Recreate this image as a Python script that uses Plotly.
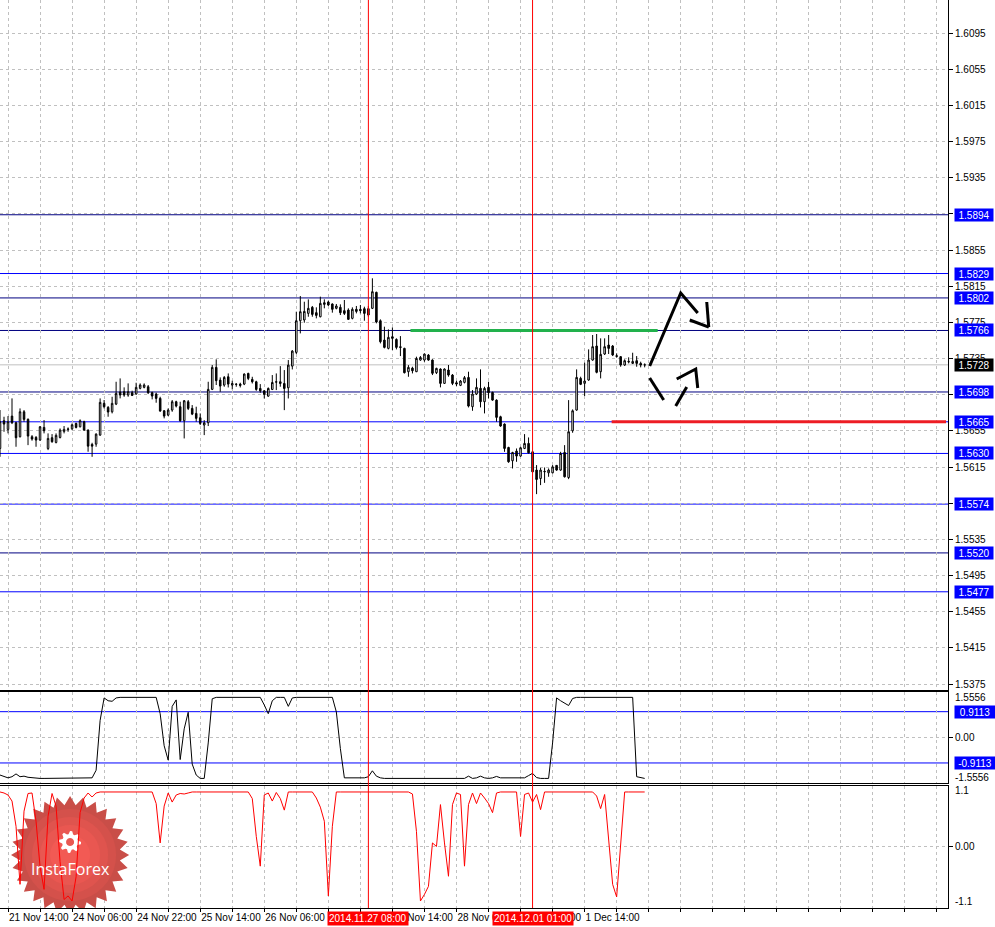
import math
import plotly.graph_objects as go
from plotly.subplots import make_subplots

# ---- hourly GBPUSD bars (index 0 = 21 Nov 14:00) ----
bar_index = list(range(-2, 160))

opens = [
    1.56355, 1.56662, 1.56566, 1.56713, 1.56640, 1.56485, 1.56761, 1.56677, 1.56485, 1.56477,
    1.56448, 1.56588, 1.56355, 1.56474, 1.56422, 1.56477, 1.56544, 1.56566, 1.56573, 1.56632,
    1.56595, 1.56651, 1.56558, 1.56400, 1.56403, 1.56503, 1.56854, 1.56809, 1.56761, 1.56846,
    1.56979, 1.56983, 1.56946, 1.56972, 1.56957, 1.57020, 1.57031, 1.57038, 1.56972, 1.56957,
    1.56909, 1.56772, 1.56724, 1.56780, 1.56872, 1.56817, 1.56662, 1.56872, 1.56798, 1.56743,
    1.56695, 1.56614, 1.56640, 1.57009, 1.57252, 1.57111, 1.57056, 1.57148, 1.57056, 1.57063,
    1.57067, 1.57067, 1.57185, 1.57119, 1.57093, 1.57019, 1.56993, 1.56934, 1.57008, 1.57093,
    1.57093, 1.57074, 1.57026, 1.57266, 1.57418, 1.57768, 1.57776, 1.57849, 1.57916, 1.57857,
    1.57812, 1.57967, 1.57975, 1.57953, 1.57905, 1.57916, 1.57879, 1.57886, 1.57794, 1.57894,
    1.57894, 1.57901, 1.57901, 1.57905, 1.58082, 1.57768, 1.57554, 1.57462, 1.57591, 1.57561,
    1.57480, 1.57462, 1.57204, 1.57244, 1.57204, 1.57333, 1.57333, 1.57388, 1.57333, 1.57193,
    1.57234, 1.57075, 1.57223, 1.57167, 1.57082, 1.57053, 1.57086, 1.57141, 1.56817, 1.56957,
    1.57020, 1.56872, 1.57031, 1.56975, 1.56890, 1.56706, 1.56625, 1.56366, 1.56219, 1.56326,
    1.56271, 1.56355, 1.56411, 1.56318, 1.56116, 1.56023, 1.56097, 1.56086, 1.56086, 1.56168,
    1.56116, 1.56311, 1.56034, 1.56551, 1.56780, 1.57130, 1.57075, 1.57112, 1.57333, 1.57488,
    1.57204, 1.57400, 1.57499, 1.57488, 1.57381, 1.57370, 1.57278, 1.57311, 1.57296, 1.57326,
    1.57296, 1.57278,
]
highs = [
    1.56780, 1.56706, 1.56713, 1.56909, 1.56651, 1.56798, 1.56780, 1.56688, 1.56503, 1.56492,
    1.56603, 1.56669, 1.56522, 1.56514, 1.56522, 1.56577, 1.56603, 1.56588, 1.56632, 1.56640,
    1.56677, 1.56662, 1.56566, 1.56418, 1.56522, 1.56909, 1.56891, 1.56824, 1.56927, 1.57093,
    1.57130, 1.57031, 1.57075, 1.56994, 1.57082, 1.57075, 1.57075, 1.57057, 1.56983, 1.56972,
    1.56927, 1.56780, 1.56798, 1.56891, 1.56883, 1.56872, 1.56891, 1.56891, 1.56835, 1.56817,
    1.56743, 1.56669, 1.57093, 1.57278, 1.57341, 1.57141, 1.57156, 1.57185, 1.57104, 1.57074,
    1.57082, 1.57185, 1.57193, 1.57148, 1.57104, 1.57067, 1.57001, 1.57030, 1.57167, 1.57185,
    1.57266, 1.57222, 1.57333, 1.57443, 1.57868, 1.58041, 1.57978, 1.58004, 1.57931, 1.57916,
    1.58034, 1.58004, 1.57989, 1.57960, 1.57953, 1.57949, 1.57997, 1.57905, 1.57916, 1.57931,
    1.57942, 1.57923, 1.57931, 1.58237, 1.58089, 1.57783, 1.57702, 1.57672, 1.57694, 1.57573,
    1.57598, 1.57469, 1.57277, 1.57259, 1.57370, 1.57377, 1.57407, 1.57399, 1.57341, 1.57248,
    1.57241, 1.57241, 1.57278, 1.57178, 1.57104, 1.57112, 1.57156, 1.57204, 1.57001, 1.57130,
    1.57230, 1.57038, 1.57093, 1.56983, 1.56898, 1.56717, 1.56632, 1.56374, 1.56318, 1.56355,
    1.56374, 1.56514, 1.56477, 1.56329, 1.56171, 1.56141, 1.56145, 1.56134, 1.56171, 1.56171,
    1.56318, 1.56392, 1.56890, 1.56787, 1.57230, 1.57149, 1.57304, 1.57451, 1.57610, 1.57621,
    1.57573, 1.57573, 1.57610, 1.57499, 1.57407, 1.57377, 1.57341, 1.57363, 1.57414, 1.57377,
    1.57315, 1.57296,
]
lows = [
    1.56263, 1.56540, 1.56522, 1.56625, 1.56374, 1.56477, 1.56651, 1.56392, 1.56441, 1.56374,
    1.56441, 1.56522, 1.56337, 1.56418, 1.56411, 1.56466, 1.56522, 1.56540, 1.56558, 1.56577,
    1.56588, 1.56551, 1.56319, 1.56263, 1.56374, 1.56496, 1.56798, 1.56706, 1.56743, 1.56835,
    1.56909, 1.56927, 1.56927, 1.56935, 1.56950, 1.57009, 1.57020, 1.56957, 1.56898, 1.56861,
    1.56761, 1.56688, 1.56713, 1.56761, 1.56809, 1.56651, 1.56466, 1.56780, 1.56724, 1.56651,
    1.56614, 1.56503, 1.56603, 1.57001, 1.57057, 1.56982, 1.57038, 1.57030, 1.57008, 1.57038,
    1.57030, 1.57056, 1.57111, 1.57074, 1.56993, 1.56971, 1.56908, 1.56927, 1.57001, 1.57001,
    1.57038, 1.56779, 1.56908, 1.57229, 1.57399, 1.57628, 1.57746, 1.57812, 1.57812, 1.57794,
    1.57805, 1.57905, 1.57931, 1.57857, 1.57894, 1.57831, 1.57831, 1.57776, 1.57783, 1.57849,
    1.57849, 1.57768, 1.57812, 1.57897, 1.57739, 1.57517, 1.57462, 1.57451, 1.57443, 1.57451,
    1.57377, 1.57185, 1.57148, 1.57185, 1.57200, 1.57325, 1.57314, 1.57325, 1.57167, 1.57178,
    1.57031, 1.57068, 1.57149, 1.57056, 1.57045, 1.57045, 1.57075, 1.56809, 1.56772, 1.56946,
    1.56809, 1.56743, 1.56909, 1.56883, 1.56651, 1.56595, 1.56318, 1.56197, 1.56134, 1.56208,
    1.56263, 1.56348, 1.56300, 1.56086, 1.55850, 1.55950, 1.55975, 1.56042, 1.56079, 1.56108,
    1.56108, 1.56034, 1.56016, 1.56529, 1.56772, 1.57056, 1.56935, 1.57104, 1.57326, 1.57186,
    1.57130, 1.57389, 1.57400, 1.57377, 1.57359, 1.57259, 1.57267, 1.57296, 1.57289, 1.57259,
    1.57252, 1.57252,
]
closes = [
    1.56651, 1.56625, 1.56651, 1.56640, 1.56474, 1.56761, 1.56677, 1.56492, 1.56459, 1.56448,
    1.56595, 1.56551, 1.56466, 1.56430, 1.56500, 1.56558, 1.56566, 1.56570, 1.56617, 1.56588,
    1.56662, 1.56558, 1.56381, 1.56381, 1.56514, 1.56865, 1.56817, 1.56758, 1.56854, 1.56964,
    1.56946, 1.56946, 1.56983, 1.56942, 1.57031, 1.57057, 1.57057, 1.56972, 1.56935, 1.56909,
    1.56769, 1.56713, 1.56780, 1.56872, 1.56824, 1.56662, 1.56883, 1.56798, 1.56735, 1.56688,
    1.56632, 1.56640, 1.57009, 1.57252, 1.57105, 1.57045, 1.57141, 1.57067, 1.57074, 1.57067,
    1.57052, 1.57178, 1.57130, 1.57093, 1.57008, 1.56993, 1.56953, 1.57019, 1.57085, 1.57089,
    1.57074, 1.57019, 1.57277, 1.57432, 1.57768, 1.57868, 1.57871, 1.57905, 1.57838, 1.57827,
    1.57960, 1.57949, 1.57942, 1.57894, 1.57931, 1.57857, 1.57849, 1.57783, 1.57894, 1.57871,
    1.57879, 1.57849, 1.57831, 1.58089, 1.57753, 1.57536, 1.57473, 1.57584, 1.57573, 1.57473,
    1.57473, 1.57193, 1.57252, 1.57215, 1.57351, 1.57362, 1.57399, 1.57333, 1.57186, 1.57241,
    1.57075, 1.57234, 1.57167, 1.57075, 1.57068, 1.57101, 1.57138, 1.56824, 1.56957, 1.57031,
    1.56872, 1.57020, 1.56972, 1.56890, 1.56699, 1.56603, 1.56355, 1.56208, 1.56311, 1.56271,
    1.56363, 1.56411, 1.56307, 1.56097, 1.56012, 1.56116, 1.56101, 1.56116, 1.56152, 1.56116,
    1.56300, 1.56042, 1.56540, 1.56772, 1.57141, 1.57064, 1.57101, 1.57333, 1.57481, 1.57197,
    1.57396, 1.57481, 1.57462, 1.57389, 1.57374, 1.57278, 1.57326, 1.57318, 1.57318, 1.57296,
    1.57278, 1.57280,
]

# ---- indicator windows ----
osc_black = [
    -1.34, -1.40, -1.44, -1.40, -1.30, -1.40, -1.38, -1.42, -1.44, -1.46,
    -1.46, -1.46, -1.46, -1.46, -1.46, -1.46, -1.46, -1.46, -1.46, -1.46,
    -1.46, -1.46, -1.46, -1.44, -1.17, 0.60, 1.40, 1.30, 1.28, 1.40,
    1.42, 1.42, 1.42, 1.42, 1.42, 1.42, 1.42, 1.42, 1.42, 1.42,
    0.84, -0.30, -0.81, 1.10, 1.33, -0.79, 0.30, 0.89, -0.95, -1.34,
    -1.46, -1.46, -0.20, 1.37, 1.42, 1.42, 1.42, 1.42, 1.42, 1.42,
    1.42, 1.42, 1.42, 1.42, 1.42, 1.42, 1.15, 0.84, 1.30, 1.42,
    1.42, 1.42, 1.10, 1.40, 1.42, 1.42, 1.42, 1.42, 1.42, 1.42,
    1.42, 1.42, 1.42, 1.42, 0.90, -0.40, -1.44, -1.44, -1.44, -1.44,
    -1.44, -1.44, -1.40, -1.19, -1.38, -1.44, -1.46, -1.46, -1.46, -1.46,
    -1.46, -1.46, -1.46, -1.46, -1.46, -1.46, -1.46, -1.46, -1.46, -1.46,
    -1.46, -1.46, -1.46, -1.46, -1.46, -1.46, -1.46, -1.38, -1.46, -1.44,
    -1.38, -1.44, -1.46, -1.44, -1.39, -1.44, -1.44, -1.44, -1.44, -1.44,
    -1.44, -1.44, -1.36, -1.28, -1.43, -1.46, -1.46, -1.46, -0.20, 1.40,
    1.30, 1.20, 1.13, 1.38, 1.42, 1.42, 1.42, 1.42, 1.42, 1.42,
    1.42, 1.42, 1.42, 1.42, 1.42, 1.42, 1.42, 1.42, 1.42, -1.40,
    -1.44, -1.46,
]
osc_red = [
    1.08, 1.06, 1.02, 0.90, 0.40, -0.75, 0.70, 1.05, 1.06, 0.50,
    -0.40, -0.85, 0.60, 1.05, 0.80, -0.30, -1.05, -0.98, -1.08, -0.60,
    0.67, 0.96, 1.06, 0.98, 1.06, 1.08, 1.08, 1.08, 1.08, 1.08,
    1.08, 1.08, 1.08, 1.08, 1.08, 1.08, 1.08, 1.08, 1.08, 0.85,
    0.07, 0.80, 1.06, 0.88, 1.02, 1.05, 1.04, 1.06, 1.08, 1.08,
    1.08, 1.08, 1.08, 1.08, 1.08, 1.08, 1.08, 1.08, 1.08, 1.08,
    1.08, 1.08, 1.08, 0.95, 0.20, -0.39, 1.02, 1.06, 0.90, 1.07,
    0.95, 0.72, 1.08, 1.08, 1.08, 1.08, 1.08, 1.08, 1.08, 0.96,
    0.78, 0.50, -0.98, 0.40, 1.08, 1.08, 1.08, 1.08, 1.08, 1.08,
    1.08, 1.08, 1.08, 1.08, 1.08, 1.08, 1.08, 1.08, 1.08, 1.08,
    1.08, 1.08, 1.08, 1.04, 0.30, -1.08, -0.95, -0.79, 0.07, 0.00,
    0.83, 0.07, -0.59, 0.83, 1.06, 1.03, -0.39, 0.83, 1.06, 0.85,
    1.06, 0.96, 0.85, 0.67, 1.06, 1.08, 1.08, 1.08, 1.08, 1.08,
    0.20, 1.03, 1.06, 0.88, 1.03, 0.73, 1.08, 1.08, 1.08, 1.08,
    1.08, 1.08, 1.08, 1.08, 1.08, 1.08, 1.08, 1.08, 1.08, 1.00,
    0.75, 1.03, 0.07, -0.75, -1.00, 0.07, 1.08, 1.08, 1.08, 1.08,
    1.08, 1.08,
]

# ---- axis text ----
time_labels = ["21 Nov 14:00", "24 Nov 06:00", "24 Nov 22:00", "25 Nov 14:00",
               "26 Nov 06:00", "26 Nov 22:00", "27 Nov 14:00", "28 Nov 06:00",
               "28 Nov 22:00", "1 Dec 14:00"]
price_grid = [1.5375, 1.5415, 1.5455, 1.5495, 1.5535, 1.5575, 1.5615, 1.5655, 1.5695,
              1.5735, 1.5775, 1.5815, 1.5855, 1.5895, 1.5935, 1.5975, 1.6015, 1.6055,
              1.6095, 1.6135]
hidden_price_ticks = [1.5575, 1.5695, 1.5895]

# horizontal levels drawn on the chart
level_prices = [1.5894, 1.5829, 1.5802, 1.5766, 1.5698, 1.5665, 1.5630, 1.5574, 1.5520, 1.5477]
level_colors = ["#000080", "#0000ff", "#000080", "#000080", "#000080",
                "#0000ff", "#0000ff", "#0000ff", "#000080", "#0000ff"]
current_price = 1.5728
osc_levels = [0.9113, -0.9113]

# vertical markers
marker_bars = [90, 131]
marker_texts = ["2014.11.27 08:00", "2014.12.01 01:00"]

# hand-drawn forecast (bar index, price)
green_seg = ([100.5, 162.25], [1.5766, 1.5766])
red_seg = ([150.75, 234.25], [1.5665, 1.5665])
strokes = [
    ([160.25, 168.0, 172.25], [1.57267, 1.58075, 1.57853]),
    ([170.25, 175.0], [1.57776, 1.57698]),
    ([174.5, 175.0], [1.57975, 1.57698]),
    ([160.25, 163.75], [1.57134, 1.56891]),
    ([166.75, 169.5], [1.56825, 1.57035]),
    ([167.0, 171.75, 172.25], [1.57123, 1.57234, 1.57024]),
]

FONT = "Liberation Sans"
GRID = "#c0c0c0"
X_RANGE = [-2, 234.75]

fig = make_subplots(rows=3, cols=1, shared_xaxes=True, vertical_spacing=0.0)

fig.add_trace(go.Candlestick(
    x=bar_index, open=opens, high=highs, low=lows, close=closes,
    increasing=dict(line=dict(color="black", width=1), fillcolor="white"),
    decreasing=dict(line=dict(color="black", width=1), fillcolor="black"),
    whiskerwidth=0, hoverinfo="skip"), row=1, col=1)

fig.add_trace(go.Scatter(x=bar_index, y=osc_black, mode="lines",
                         line=dict(color="black", width=1)), row=2, col=1)
fig.add_trace(go.Scatter(x=bar_index, y=osc_red, mode="lines",
                         line=dict(color="#ff0000", width=1)), row=3, col=1)

# forecast lines
fig.add_trace(go.Scatter(x=green_seg[0], y=green_seg[1], mode="lines",
                         line=dict(color="#22b14c", width=3)), row=1, col=1)
fig.add_trace(go.Scatter(x=red_seg[0], y=red_seg[1], mode="lines",
                         line=dict(color="#ed1c24", width=3)), row=1, col=1)
for sx, sy in strokes:
    fig.add_trace(go.Scatter(x=sx, y=sy, mode="lines",
                             line=dict(color="black", width=3)), row=1, col=1)

shapes = []
annotations = []

for p, c in zip(level_prices, level_colors):
    shapes.append(dict(type="line", xref="paper", x0=0, x1=1, yref="y", y0=p, y1=p,
                       line=dict(color=c, width=1), layer="between"))
    annotations.append(dict(xref="paper", x=1, xanchor="left", xshift=6, yref="y", y=p,
                            text=f"{p:.4f}", showarrow=False, bgcolor="#0000ff",
                            font=dict(color="white", size=10, family=FONT),
                            width=38, height=12, borderpad=0))
shapes.append(dict(type="line", xref="paper", x0=0, x1=1, yref="y", y0=current_price,
                   y1=current_price, line=dict(color="#c0c0c0", width=1), layer="between"))
annotations.append(dict(xref="paper", x=1, xanchor="left", xshift=6, yref="y", y=current_price,
                        text=f"{current_price:.4f}", showarrow=False, bgcolor="black",
                        font=dict(color="white", size=10, family=FONT),
                        width=38, height=12, borderpad=0))

for v in osc_levels:
    shapes.append(dict(type="line", xref="paper", x0=0, x1=1, yref="y2", y0=v, y1=v,
                       line=dict(color="#0000ff", width=1), layer="between"))
    annotations.append(dict(xref="paper", x=1, xanchor="left", xshift=6, yref="y2", y=v,
                            text=f"{v:.4f}", showarrow=False, bgcolor="#0000ff",
                            font=dict(color="white", size=10, family=FONT),
                            width=40, height=12, borderpad=0))

for txt, yref, y, ysh in [("1.5556", "y2", 1.5556, -4), ("-1.5556", "y2", -1.5556, 4),
                          ("1.1", "y3", 1.1, 0), ("-1.1", "y3", -1.1, 0)]:
    annotations.append(dict(xref="paper", x=1, xanchor="left", xshift=5, yref=yref, y=y,
                            yshift=ysh, text=txt, showarrow=False,
                            font=dict(color="black", size=10, family=FONT)))

for b, txt in zip(marker_bars, marker_texts):
    shapes.append(dict(type="line", xref="x", x0=b, x1=b, yref="paper", y0=0, y1=1,
                       line=dict(color="#ff0000", width=1), layer="above"))
    annotations.append(dict(xref="x3", x=b, yref="paper", y=0, yanchor="top", yshift=-3,
                            text=txt, showarrow=False, bgcolor="#ff0000",
                            font=dict(color="white", size=10, family=FONT), borderpad=1))

# InstaForex watermark in the lower window (pixel-sized star converted to data units)
def to_data(px, py):
    return -2 + px / 4.0, 1.199 - (py - 786) / 50.45

def ring_path(cx, cy, radii, n):
    pts = []
    for k in range(n):
        a = 2 * math.pi * k / n
        r = radii[k % len(radii)]
        pts.append(to_data(cx + r * math.cos(a), cy + r * math.sin(a)))
    return "M " + " L ".join(f"{x:.4f},{y:.4f}" for x, y in pts) + " Z"

cx, cy = 70, 855
shapes.append(dict(type="path", xref="x3", yref="y3", path=ring_path(cx, cy, [59, 50], 56),
                   fillcolor="#c94e48", line=dict(width=0), layer="between"))
for r, col in [(46, "#d4514b"), (38, "#df544e"), (30, "#e95751"), (20, "#f25a54")]:
    shapes.append(dict(type="path", xref="x3", yref="y3", path=ring_path(cx, cy, [r], 40),
                       fillcolor=col, line=dict(width=0), layer="between"))
shapes.append(dict(type="path", xref="x3", yref="y3",
                   path=ring_path(cx, cy - 13, [11, 11, 8, 8], 32),
                   fillcolor="white", line=dict(width=0), layer="between"))
shapes.append(dict(type="path", xref="x3", yref="y3", path=ring_path(cx, cy - 13, [4], 20),
                   fillcolor="#e95751", line=dict(width=0), layer="between"))
annotations.append(dict(xref="x3", yref="y3", x=to_data(cx, 0)[0], y=to_data(0, cy + 14)[1],
                        text="InstaForex", showarrow=False,
                        font=dict(color="white", size=16, family="Open Sans")))

x_ticks = list(range(0, 233, 8))
x_text = []
for k, t in enumerate(x_ticks):
    j = k // 2
    x_text.append(time_labels[j] if k % 2 == 0 and j < len(time_labels) else "")

y_text = ["" if v in hidden_price_ticks else f"{v:.4f}" for v in price_grid]

axis_common = dict(showgrid=True, gridcolor=GRID, griddash="3px,3px", gridwidth=1,
                   zeroline=False, linecolor="black", linewidth=1, automargin=False)

fig.update_layout(
    width=995, height=927,
    margin=dict(l=0, r=47, t=0, b=19),
    plot_bgcolor="white", paper_bgcolor="white",
    showlegend=False, boxgap=0.45,
    font=dict(family=FONT, size=10, color="black"),
    shapes=shapes, annotations=annotations,
    xaxis=dict(range=X_RANGE, tickmode="array", tickvals=x_ticks, showticklabels=False,
               showline=True, mirror=False, rangeslider=dict(visible=False), **axis_common),
    xaxis2=dict(range=X_RANGE, tickmode="array", tickvals=x_ticks, showticklabels=False,
                showline=True, mirror=True, **axis_common),
    xaxis3=dict(range=X_RANGE, tickmode="array", tickvals=x_ticks, ticktext=x_text,
                showline=True, mirror=True, ticks="outside", ticklen=3, tickcolor="black",
                tickangle=0, ticklabelposition="outside right", **axis_common),
    yaxis=dict(domain=[0.2401, 1.0], range=[1.53684, 1.61315], side="right",
               tickmode="array", tickvals=price_grid, ticktext=y_text,
               ticks="outside", ticklen=4, tickcolor="black", showline=True, **axis_common),
    yaxis2=dict(domain=[0.1377, 0.2379], range=[-1.622, 1.611], side="right",
                tickmode="array", tickvals=[0], ticktext=["0.00"],
                ticks="outside", ticklen=4, tickcolor="black", showline=True, **axis_common),
    yaxis3=dict(domain=[0.0, 0.1344], range=[-1.219, 1.199], side="right",
                tickmode="array", tickvals=[0], ticktext=["0.00"],
                ticks="outside", ticklen=4, tickcolor="black", showline=True, **axis_common),
)

# the page body has a default 8px margin; remove it so the chart sits at the window corner
fig.write_html("out.html", config={"displayModeBar": False},
               post_script="document.body.style.margin='0';document.body.style.overflow='hidden';")
